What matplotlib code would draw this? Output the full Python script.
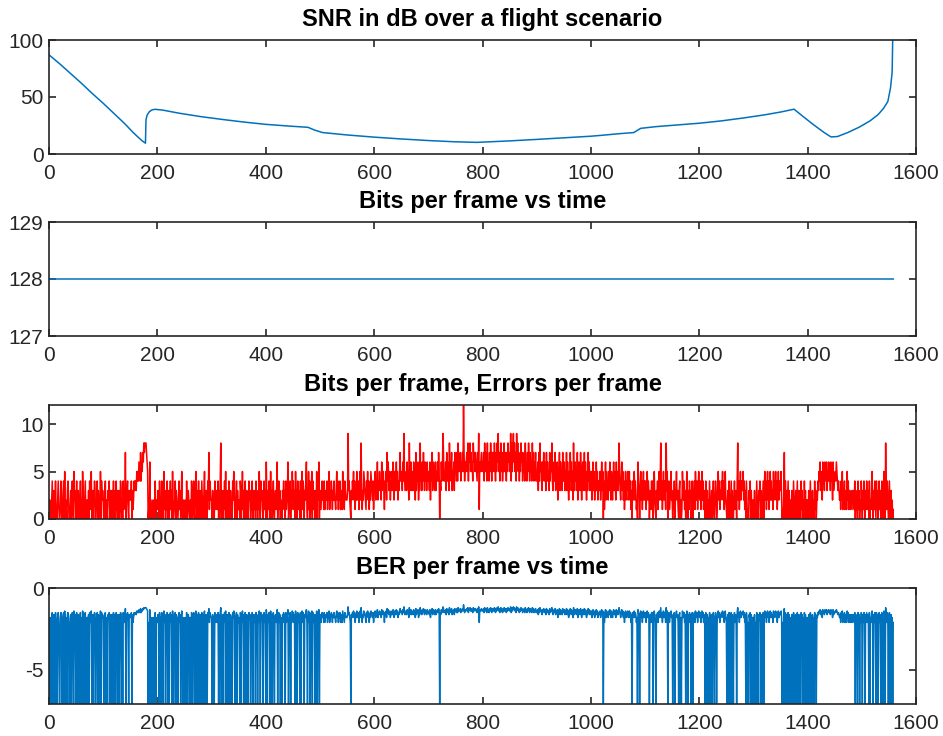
import numpy as np
import matplotlib.pyplot as plt

# SNR (dB) at selected frames
snr_frames = [0, 20, 40, 60, 80, 100, 120, 140, 155, 165, 172, 178, 179, 181, 185, 190, 196,
              210, 240, 280, 320, 360, 400, 440, 478, 490, 505, 550, 600, 650, 700, 750, 790,
              850, 900, 950, 1000, 1020, 1052, 1079, 1085, 1092, 1120, 1160, 1200, 1240, 1280,
              1320, 1350, 1375, 1390, 1410, 1430, 1443, 1455, 1475, 1495, 1515, 1530, 1540,
              1548, 1553, 1556, 1558]
snr_db = [87, 79, 70.5, 62, 53, 44.5, 35.5, 26.5, 19, 14.5, 11.5, 9.5, 30, 34, 37, 38.7, 39.2,
          38.5, 35.8, 32.8, 30.3, 28, 26, 24.6, 23.4, 21, 18.8, 16.7, 14.8, 13.2, 11.8, 10.7, 10.2,
          11.5, 12.8, 14.2, 15.6, 16.4, 17.8, 18.8, 20.5, 22.5, 24, 25.5, 27, 29, 31.5,
          34.3, 36.8, 39.3, 33.5, 26, 19, 15, 15.3, 19, 23.5, 29, 34.5, 40,
          46, 58, 72, 130]

bits_value = 128

# errors per frame, one hex digit per frame (frames 0..1558)
errors_str = """
2021024013 2041002420 0143012405 0210342001 3024105230
1402301240 2053102401 2203041250 1302430214 0320150423
2013402103 2410320314 0230413023 0143020413 2702341032
3240312434 4354546547 4657687888 7650106101 2012014021
1320412043 0251302140 2302413052 0124032102 4130251020
0210401320 1204302410 2520314023 1042013502 3104271432
2031204213 2140304820 1302415023 0142031204 2530124031
1204302513 0241032014 2302140321 3041203152 0423102413
0620314205 1302410231 3602413021 0324130412 3601240315
2413052304 1320402514 3032461025 1402350413 2031504260
3213423141 2324132513 2431324221 3524132413 2153214322
2393421032 4352413252 3413528313 2543214352 4132543241
3452436243 5342634531 4352746345 2435364253 4635243574
4536495345 3645283463 5436452735 4625384536 4753645364
4536254736 5436354647 5043645974 5463746538 4657354637
5647485657 46575c7465 6758476857 5648675765 4759165675
6574857648 5647586475 7586475869 5746857465 8576475867
5694857968 5749685746 5867465748 5647586475 6485746574
5463748564 3657465374 6453746584 3564735462 4573645374
4635473642 5374635284 3645372465 3742563473 6425374635
3524635243 6352433524 6350413625 3425364253 2463542635
3485324635 2413524352 3524130423 5243120643 0352413524
2413524302 3142403521 0324135248 2413524318 3502412352
2031402352 3103402015 3241302520 3142301403 2415324135
3241352413 2041030204 2013024102 4301352413 2435241352
1023041024 0310241320 4824135243 3524130420 1032403102
2030104201 3240310240 3524135241 3524231524 3524135243
3520103704 1302403102 0310420130 2401302041 3020413021
2031042013 0204130224 3546345264 5365463546 4536452634
4546543432 3142513241 2315241321 3213231403 1204130214
2031420314 2130402135 2031420413 0241302410 3520831420
240130201
"""
errors = [int(c, 16) for c in errors_str if c not in " \n"]
ber_floor = -7.1  # value shown for frames with no errors

frames = np.arange(len(errors))
err = np.array(errors, dtype=float)
ber_log = np.where(err > 0, np.log10(np.maximum(err, 1) / bits_value), ber_floor)

plt.rcParams['font.family'] = ['Liberation Sans', 'DejaVu Sans']
plt.rcParams['axes.unicode_minus'] = False
fig = plt.figure(figsize=(9.43, 7.36), dpi=100)
W, H = 943, 736
blue = '#0072BD'
edge = '#262626'


def make_ax(top, bottom, title, left=49, right=916):
    ax = fig.add_axes([left / W, 1 - bottom / H, (right - left) / W, (bottom - top) / H])
    for s in ax.spines.values():
        s.set_color(edge)
        s.set_linewidth(1.2)
    ax.tick_params(direction='in', length=5, width=1.2, colors=edge, labelsize=15,
                   top=True, right=True, labelcolor=edge)
    ax.tick_params(axis='x', pad=7)
    ax.tick_params(axis='y', pad=4)
    ax.set_xlim(0, 1600)
    ax.set_xticks(np.arange(0, 1601, 200))
    ax.set_title(title, fontsize=17, fontweight='bold', pad=10, color='black')
    return ax


ax1 = make_ax(40, 154, 'SNR in dB over a flight scenario')
ax1.plot(snr_frames, snr_db, color=blue, lw=1.1)
ax1.set_ylim(0, 100)
ax1.set_yticks([0, 50, 100])

ax2 = make_ax(222, 336, 'Bits per frame vs time')
ax2.plot(frames, np.full(len(frames), bits_value), color=blue, lw=1.1)
ax2.set_ylim(127, 129)
ax2.set_yticks([127, 128, 129])

ax3 = make_ax(405, 519, 'Bits per frame, Errors per frame')
ax3.plot(frames, err, color='red', lw=1.1)
ax3.set_ylim(0, 12)
ax3.set_yticks([0, 5, 10])

ax4 = make_ax(588, 704, 'BER per frame vs time')
ax4.plot(frames, ber_log, color=blue, lw=1.1)
ax4.set_ylim(ber_floor, 0)
ax4.set_yticks([-5, 0])

plt.savefig('out.png', dpi=100)
